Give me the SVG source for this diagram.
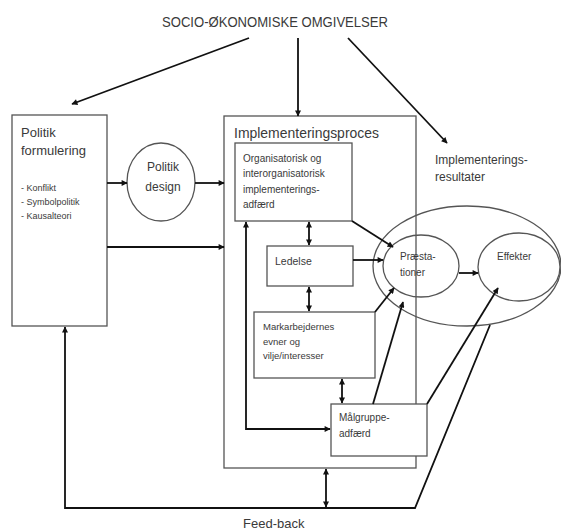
<svg xmlns="http://www.w3.org/2000/svg" width="561" height="531" viewBox="0 0 561 531">
<defs>
<marker id="ah" viewBox="0 0 10 10" refX="9" refY="5" markerWidth="7" markerHeight="6" orient="auto-start-reverse" markerUnits="userSpaceOnUse">
<path d="M0,0 L10,5 L0,10 z" fill="#111"/>
</marker>
<style>
.box{fill:#fff;stroke:#555;stroke-width:1.3}
.ell{fill:none;stroke:#555;stroke-width:1.3}
.t{font-family:"Liberation Sans",Arial,sans-serif;fill:#3a3a3a}
.a{fill:none;stroke:#111;stroke-width:1.8;marker-end:url(#ah)}
.d{fill:none;stroke:#111;stroke-width:1.8;marker-end:url(#ah);marker-start:url(#ah)}
</style>
</defs>
<rect width="561" height="531" fill="#fff"/>
<text class="t" x="162" y="27" font-size="14" textLength="226" lengthAdjust="spacingAndGlyphs">SOCIO-ØKONOMISKE OMGIVELSER</text>

<g id="politik-formulering">
<rect class="box" x="12" y="115" width="95" height="211"/>
<text class="t" x="21" y="137" font-size="13">Politik</text>
<text class="t" x="21" y="155" font-size="13">formulering</text>
<text class="t" x="21" y="191" font-size="9">- Konflikt</text>
<text class="t" x="21" y="205" font-size="9">- Symbolpolitik</text>
<text class="t" x="21" y="219" font-size="9">- Kausalteori</text>
</g>

<g id="politik-design">
<ellipse class="ell" cx="161" cy="182" rx="34" ry="39"/>
<text class="t" x="163" y="171" font-size="12" text-anchor="middle">Politik</text>
<text class="t" x="163" y="191" font-size="12" text-anchor="middle">design</text>
</g>

<g id="implementeringsproces">
<rect class="box" x="224" y="116" width="192" height="352"/>
<text class="t" x="234" y="138" font-size="15" textLength="145" lengthAdjust="spacingAndGlyphs">Implementeringsproces</text>
</g>

<g id="implementeringsresultater">
<ellipse class="ell" cx="467" cy="266" rx="94" ry="60"/>
<text class="t" x="435" y="164" font-size="12">Implementerings-</text>
<text class="t" x="435" y="181" font-size="12">resultater</text>
</g>

<g id="organisatorisk">
<rect class="box" x="235" y="143" width="117" height="78"/>
<text class="t" x="243" y="162" font-size="10">Organisatorisk og</text>
<text class="t" x="243" y="177" font-size="10">interorganisatorisk</text>
<text class="t" x="243" y="193" font-size="10">implementerings-</text>
<text class="t" x="243" y="208" font-size="10">adfærd</text>
</g>

<g id="ledelse">
<rect class="box" x="267" y="246" width="86" height="40"/>
<text class="t" x="275" y="265" font-size="10.5">Ledelse</text>
</g>

<g id="markarbejdernes">
<rect class="box" x="254" y="312" width="121" height="66"/>
<text class="t" x="263" y="330" font-size="9.5">Markarbejdernes</text>
<text class="t" x="263" y="345" font-size="9.5">evner og</text>
<text class="t" x="263" y="359" font-size="9.5">vilje/interesser</text>
</g>

<g id="malgruppe">
<rect class="box" x="331" y="404" width="96" height="52"/>
<text class="t" x="339" y="421" font-size="10">Målgruppe-</text>
<text class="t" x="339" y="437" font-size="10">adfærd</text>
</g>

<g id="praestationer">
<ellipse class="ell" cx="421" cy="266" rx="38" ry="31"/>
<text class="t" x="400" y="260" font-size="10">Præsta-</text>
<text class="t" x="400" y="276" font-size="10">tioner</text>
</g>

<g id="effekter">
<ellipse class="ell" cx="519" cy="267" rx="41" ry="34"/>
<text class="t" x="497" y="260" font-size="10">Effekter</text>
</g>

<g id="connectors">
<path class="a" d="M249,38 L72,104"/>
<path class="a" d="M298,38 L298,116"/>
<path class="a" d="M348,38 L447,143"/>
<path class="a" d="M107,183 L127,183"/>
<path class="a" d="M195,183 L224,183"/>
<path class="a" d="M107,247 L224,247"/>
<path class="d" d="M309,222 L309,245"/>
<path class="d" d="M309,287 L309,311"/>
<path class="d" d="M342,379 L342,403"/>
<path class="d" d="M246,222 L246,429 L330,429"/>
<path class="a" d="M352,221 L393,247"/>
<path class="a" d="M353,260 L383,260"/>
<path class="a" d="M375,312 L394,288"/>
<path class="a" d="M373,404 L403,302"/>
<path class="a" d="M427,404 L498,288"/>
<path class="a" d="M459,273 L478,273"/>
<path class="a" d="M490,325 L415,508 L65,508 L65,327"/>
<path class="d" d="M326,469 L326,507"/>
</g>
<text class="t" x="243" y="528" font-size="13">Feed-back</text>
</svg>
